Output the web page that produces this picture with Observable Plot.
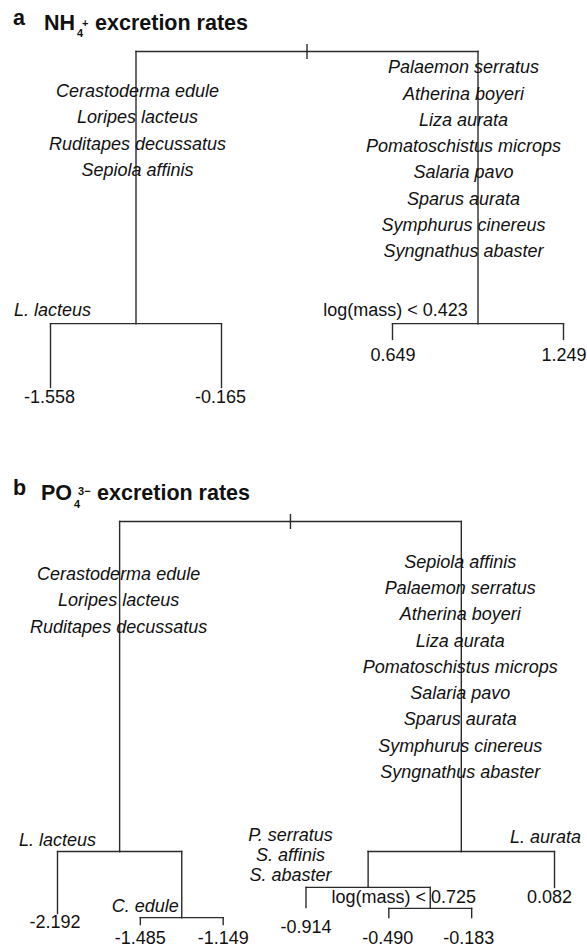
<!DOCTYPE html>
<html><head><meta charset="utf-8">
<script src="https://cdn.jsdelivr.net/npm/d3@7"></script>
<script src="https://cdn.jsdelivr.net/npm/@observablehq/plot@0.6"></script>
<style>
body{margin:0;background:#fff;}
#page{position:relative;width:587px;height:947px;overflow:hidden;font-family:'Liberation Sans',Arial,Helvetica,sans-serif;color:#111;}
.title{position:absolute;left:0;font-weight:bold;font-size:21.5px;line-height:1;white-space:nowrap;}
.title .lt{position:absolute;left:13px;top:0}
.title .nm{position:absolute;top:0}
.stack{display:inline-block;position:relative;height:1em;}
.stack span{position:absolute;font-size:11px;line-height:0.8;left:0}
.chart{position:absolute;left:0}
</style></head><body>
<div id="page">
<div class="title" style="top:8px"><span class="lt">a</span><span class="nm" style="left:44px">NH<span class="stack" style="width:14px"><span style="top:11.3px;left:7px">+</span><span style="top:21.3px;left:2px">4</span></span> excretion rates</span></div>
<div id="A" class="chart" style="top:35px"></div>
<div class="title" style="top:478px"><span class="lt">b</span><span class="nm" style="left:41px">PO<span class="stack" style="width:19px"><span style="top:9.3px;left:6px">3−</span><span style="top:22.3px;left:2px">4</span></span> excretion rates</span></div>
<div id="B" class="chart" style="top:505px"></div>
</div>
<script>
// ---------- Tree a: NH4+ excretion rates ----------
const nh4Nodes   = ["a1","a2","a3","a4","a5","a6","a7"];
const nh4Parents = [null,"a1","a1","a2","a2","a3","a3"];
const nh4Heights = [1.00, 0.190, 0.190, 0.000, 0.000, 0.143, 0.143];
const nh4Leaves  = ["-1.558","-0.165","0.649","1.249"];
const nh4LeftSpecies  = ["Cerastoderma edule","Loripes lacteus","Ruditapes decussatus","Sepiola affinis"];
const nh4RightSpecies = ["Palaemon serratus","Atherina boyeri","Liza aurata","Pomatoschistus microps","Salaria pavo","Sparus aurata","Symphurus cinereus","Syngnathus abaster"];
const nh4Splits = ["L. lacteus","log(mass) < 0.423"];

// ---------- Tree b: PO4 3- excretion rates ----------
const po4Nodes   = ["b1","b2","b3","b4","b5","b6","b7","b8","b9","b10","b11","b12","b13"];
const po4Parents = [null,"b1","b2","b2","b4","b4","b1","b7","b8","b8","b10","b10","b7"];
const po4Heights = [1.00, 0.181, 0.027, 0.017, 0.000, 0.000, 0.181, 0.092, 0.042, 0.040, 0.017, 0.017, 0.092];
const po4Leaves  = ["-2.192","-1.485","-1.149","-0.914","-0.490","-0.183","0.082"];
const po4LeftSpecies  = ["Cerastoderma edule","Loripes lacteus","Ruditapes decussatus"];
const po4RightSpecies = ["Sepiola affinis","Palaemon serratus","Atherina boyeri","Liza aurata","Pomatoschistus microps","Salaria pavo","Sparus aurata","Symphurus cinereus","Syngnathus abaster"];
const po4Splits = ["L. lacteus","C. edule","P. serratus\nS. affinis\nS. abaster","L. aurata","log(mass) < 0.725"];

// ---------- helpers ----------
const FS = 18, INK = "#111", LINE = "#2b2b2b";
const FONT = "'Liberation Sans', Arial, Helvetica, sans-serif";

function buildTree(ids, parents, heights, leafValues) {
  const nodes = ids.map((id, i) => ({id, parent: parents[i], h: heights[i], children: []}));
  const byId = new Map(nodes.map(n => [n.id, n]));
  nodes.forEach(n => { if (n.parent) byId.get(n.parent).children.push(n); });
  let k = 0;
  (function place(n) {
    if (!n.children.length) { n.x = ++k; n.value = leafValues[k - 1]; }
    else { n.children.forEach(place); n.x = d3.mean(n.children, c => c.x); }
  })(nodes[0]);
  const segs = nodes.filter(n => n.parent).flatMap(n => {
    const p = byId.get(n.parent);
    return [{x1: p.x, y1: p.h, x2: n.x, y2: p.h}, {x1: n.x, y1: p.h, x2: n.x, y2: n.h}];
  });
  return {nodes, byId, segs, leaves: nodes.filter(n => !n.children.length)};
}

const tickSymbol = {draw(ctx) { ctx.moveTo(0, -7.5); ctx.lineTo(0, 7.5); }};

function label(tree, text, xId, yId, dx, baseline, opt = {}) {
  const xn = tree.byId.get(xId), yn = tree.byId.get(yId);
  return Plot.text([{x: xn.x, y: yn.h, t: text}], {
    x: "x", y: "y", text: "t", dx, dy: baseline,
    lineAnchor: "bottom", textAnchor: "middle", fontSize: FS, fill: INK, ...opt
  });
}
function leafLabels(tree, layout) {
  return tree.leaves.map((n, i) => label(tree, n.value, n.id, n.id, layout[i][0], layout[i][1]));
}

function chart(tree, xRange, yRange, height, labels) {
  return Plot.plot({
    width: 587, height,
    marginTop: 0, marginRight: 0, marginBottom: 0, marginLeft: 0,
    x: {domain: [1, tree.leaves.length], range: xRange, axis: null},
    y: {domain: [0, 1], range: yRange, axis: null},
    style: {fontFamily: FONT, background: "transparent", overflow: "visible"},
    marks: [
      Plot.link(tree.segs, {x1: "x1", y1: "y1", x2: "x2", y2: "y2", stroke: LINE, strokeWidth: 1.4, strokeLinecap: "square"}),
      Plot.dot([tree.nodes[0]], {x: "x", y: "h", r: 3, symbol: tickSymbol, stroke: LINE, fill: "none", strokeWidth: 1.4}),
      ...labels
    ]
  });
}

// ---------- tree a ----------
const A = buildTree(nh4Nodes, nh4Parents, nh4Heights, nh4Leaves);
const it = {fontStyle: "italic"};
const LH = 26.25 / FS;
document.getElementById("A").append(chart(A, [50, 563], [352, 16], 435, [
  label(A, nh4LeftSpecies.join("\n"), "a2", "a1", 1.5, 124.4, {...it, lineHeight: LH}),
  label(A, nh4RightSpecies.join("\n"), "a3", "a1", -14.5, 205.5, {...it, lineHeight: LH}),
  label(A, nh4Splits[0], "a4", "a2", 2, -7.8, it),
  label(A, nh4Splits[1], "a6", "a3", 3, -8),
  ...leafLabels(A, [[-1, 15.7], [-1, 15.7], [0.5, 21.7], [0.5, 21.7]])
]));

// ---------- tree b ----------
const B = buildTree(po4Nodes, po4Parents, po4Heights, po4Leaves);
document.getElementById("B").append(chart(B, [57, 554], [419, 16], 442, [
  label(B, po4LeftSpecies.join("\n"), "b2", "b1", -1, 111, {...it, lineHeight: LH}),
  label(B, po4RightSpecies.join("\n"), "b7", "b1", -1, 256.3, {...it, lineHeight: LH}),
  label(B, po4Splits[0], "b3", "b2", 0, -5.3, it),
  label(B, po4Splits[1], "b5", "b4", 5, -6, it),
  label(B, po4Splits[2], "b9", "b8", -15.5, -6, {...it, lineHeight: 20 / FS}),
  label(B, po4Splits[3], "b13", "b7", -9, -9, it),
  label(B, po4Splits[4], "b11", "b10", 15, -5.6),
  ...leafLabels(B, [[-2.5, 14.7], [0, 19.3], [0, 19.3], [0, 25.7], [-1, 26.3], [-3, 26.3], [-5, 15.7]])
]));
</script>
</body></html>
